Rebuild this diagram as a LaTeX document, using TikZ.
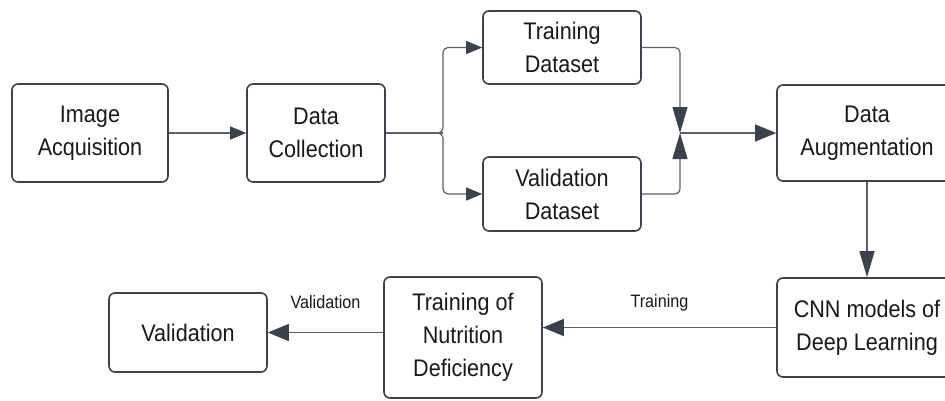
\documentclass[tikz,border=0pt]{standalone}
\usepackage{fontspec}
\setmainfont[FakeStretch=0.9]{Liberation Sans}
\usetikzlibrary{arrows.meta,calc}
\definecolor{boxc}{HTML}{3C424B}
\definecolor{linec}{HTML}{5C626A}
\begin{document}
\begin{tikzpicture}[x=1pt,y=-1pt,
  box/.style={draw=boxc, line width=1.6pt, rounded corners=6pt, align=center,
    inner sep=0pt, font=\fontsize{24}{33}\selectfont, text=black!90},
  conn/.style={draw=linec, line width=1.2pt},
  arr/.style={conn, -{Triangle[length=16pt,width=13pt,fill=boxc,color=boxc]}},
  bigarr/.style={conn, -{Triangle[length=21pt,width=17pt,fill=boxc,color=boxc]}},
  longarr/.style={conn, -{Triangle[length=26pt,width=15pt,fill=boxc,color=boxc]}},
  lbl/.style={font=\fontsize{18}{22}\selectfont, text=black!90}]
\clip (0,0) rectangle (945,400);
\fill[white] (0,0) rectangle (945,400);
\node[box, minimum width=156pt, minimum height=98pt] (ia) at (90,133) {Image\\Acquisition};
\node[box, minimum width=138pt, minimum height=98pt] (dc) at (316,133) {Data\\Collection};
\node[box, minimum width=158pt, minimum height=73pt] (td) at (562,47.5) {Training\\Dataset};
\node[box, minimum width=158pt, minimum height=74pt] (vd) at (562,194) {Validation\\Dataset};
\node[box, minimum width=180pt, minimum height=96pt] (da) at (867,133) {Data\\Augmentation};
\node[box, minimum width=180pt, minimum height=99pt] (cnn) at (867,327.5) {CNN models of\\Deep Learning};
\node[box, minimum width=158pt, minimum height=121pt] (tn) at (463,337.5) {Training of\\Nutrition\\Deficiency};
\node[box, minimum width=158pt, minimum height=79pt] (va) at (188,332.5) {Validation};
\coordinate (split) at (443,133);
\coordinate (m) at (680,133);
\draw[arr] (ia.east) -- (dc.west);
\draw[conn] (dc.east) -- (split);
\draw[arr, rounded corners=5pt] (dc.east) -- (split) -- (split |- td.west) -- (td.west);
\draw[arr, rounded corners=5pt] (dc.east) -- (split) -- (split |- vd.west) -- (vd.west);
\draw[longarr, rounded corners=5pt] (td.east) -| (m);
\draw[longarr, rounded corners=5pt] (vd.east) -| (m);
\draw[bigarr] (m) -- (da.west);
\draw[longarr] (da.south) -- (cnn.north);
\draw[bigarr] (cnn.west) -- (cnn.west -| tn.east) node[midway, above=12pt, lbl] (lt) {Training};
\draw[bigarr] (tn.west |- va.east) -- (va.east) node[midway, above=20pt, lbl] (lv) {Validation};
\end{tikzpicture}
\end{document}
